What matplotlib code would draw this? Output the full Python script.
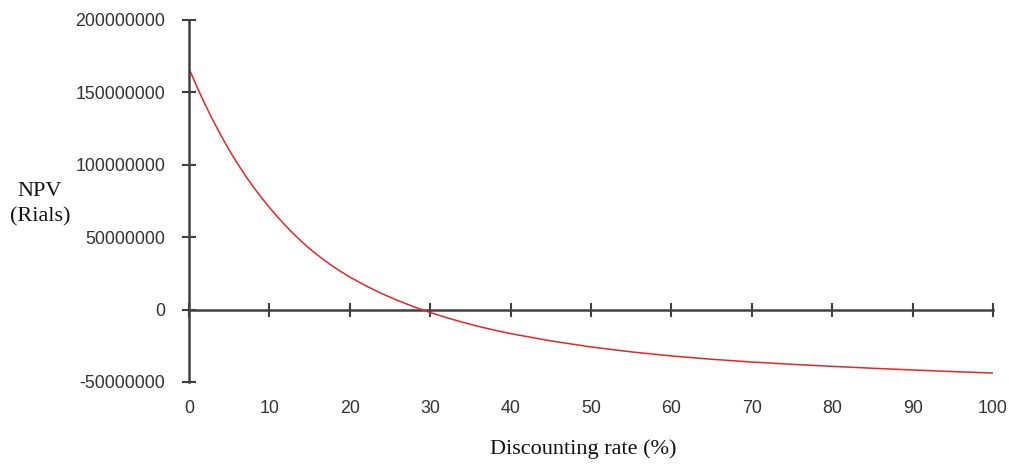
import matplotlib
matplotlib.use("Agg")
from matplotlib import pyplot as plt

# discounting rate (%) and NPV (Rials)
rate = [0, 1, 2, 3, 4, 5, 6, 7, 8, 9, 10, 11, 12, 13, 14, 15, 16, 17, 18, 19,
        20, 22, 24, 26, 28, 30, 32, 34, 36, 38, 40, 45, 50, 55, 60, 65, 70,
        75, 80, 85, 90, 95, 100]
npv_millions = [166.5, 153.7, 141.7, 130.5, 120.0, 110.2, 101.1, 92.6, 84.7,
                77.4, 70.6, 64.1, 58.0, 52.3, 47.0, 42.1, 37.6, 33.4, 29.5,
                25.9, 22.5, 16.4, 11.0, 6.2, 1.9, -2.0, -5.5, -8.7, -11.6,
                -14.2, -16.6, -21.6, -25.8, -29.2, -32.0, -34.3, -36.2,
                -37.8, -39.2, -40.5, -41.7, -42.8, -43.8]
x_ticks = [0, 10, 20, 30, 40, 50, 60, 70, 80, 90, 100]
y_ticks = [-50000000, 0, 50000000, 100000000, 150000000, 200000000]

npv = [v * 1e6 for v in npv_millions]

axis_col = '#404040'
text_col = '#333333'

fig = plt.figure(figsize=(10.09, 4.66), dpi=100)
ax = fig.add_axes([189 / 1009, 1 - 382 / 466, 804 / 1009, 362 / 466])

ax.plot(rate, npv, color='#e02828', linewidth=1.1)

ax.set_xlim(0, 100)
ax.set_ylim(-50000000, 200000000)
ax.set_yticks(y_ticks)
ax.set_yticklabels([str(v) for v in y_ticks])
ax.set_xticks(x_ticks)
ax.set_xticklabels([str(v) for v in x_ticks])

for side in ['top', 'right', 'bottom']:
    ax.spines[side].set_visible(False)
ax.spines['left'].set_color(axis_col)
ax.spines['left'].set_linewidth(1.8)

ax.tick_params(axis='y', direction='inout', length=10, width=1.5,
               color=axis_col, labelcolor=text_col, labelsize=12.8, pad=12)
ax.tick_params(axis='x', length=0, labelcolor=text_col, labelsize=12.8,
               pad=13)
for lab in ax.get_xticklabels() + ax.get_yticklabels():
    lab.set_family('Liberation Sans')

# zero line with the x ticks on it
zero_frac = 50000000 / 250000000
sec = ax.secondary_xaxis(zero_frac)
sec.set_xticks(x_ticks)
sec.tick_params(axis='x', direction='inout', length=10, width=1.5,
                color=axis_col, labelbottom=False, labeltop=False)
sec.spines['bottom'].set_color(axis_col)
sec.spines['bottom'].set_linewidth(1.8)

fig.text(490 / 1009 + 187 / 2018, 1 - 449 / 466, 'Discounting rate (%)',
         ha='center', va='center', fontsize=16, family='Liberation Serif',
         color='#111111')
fig.text(40 / 1009, 1 - 204 / 466, 'NPV\n(Rials)', ha='center', va='center',
         fontsize=16, family='Liberation Serif', color='#111111',
         linespacing=1.45)

fig.savefig('out.png', dpi=100)
